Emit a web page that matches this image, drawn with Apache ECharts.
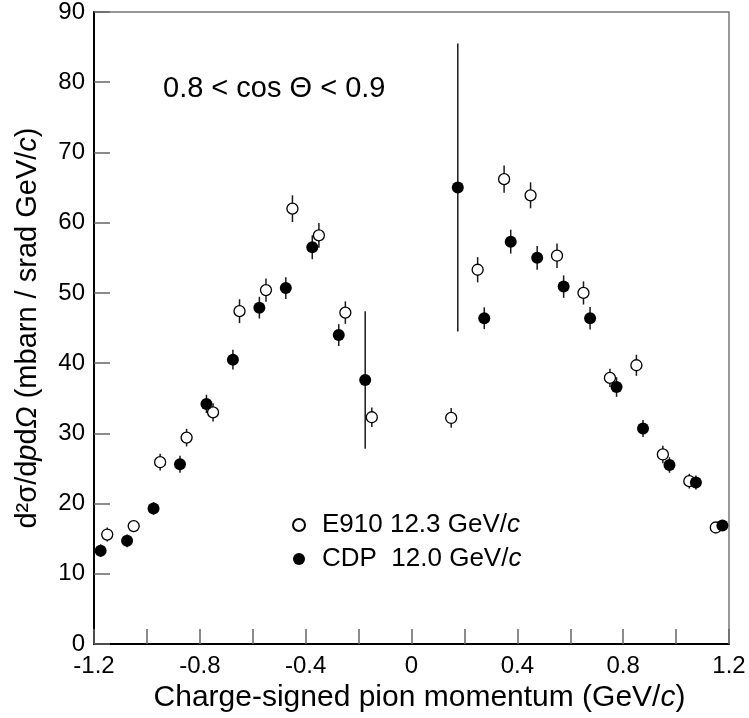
<!DOCTYPE html>
<html><head><meta charset="utf-8">
<script src="https://cdn.jsdelivr.net/npm/echarts@6/dist/echarts.min.js"></script>
<style>html,body{margin:0;padding:0;background:#fff}#c{width:749px;height:718px}</style>
</head><body><div id="c"></div>
<script>
// E910 12.3 GeV/c (open circles)
const e910X = [-1.15,-1.05,-0.95,-0.85,-0.75,-0.65,-0.55,-0.45,-0.35,-0.25,-0.15,0.15,0.25,0.35,0.45,0.55,0.65,0.75,0.85,0.95,1.05,1.15];
const e910Y = [15.6,16.8,25.9,29.4,33.0,47.4,50.4,62.0,58.2,47.2,32.3,32.2,53.3,66.2,63.9,55.3,50.0,37.9,39.7,27.0,23.2,16.6];
const e910Err = [1.0,0.85,1.2,1.25,1.3,1.7,1.65,1.9,1.75,1.6,1.4,1.4,1.8,1.95,1.85,1.75,1.65,1.3,1.5,1.25,1.05,0.6];
// CDP 12.0 GeV/c (filled circles)
const cdpX = [-1.175,-1.075,-0.975,-0.875,-0.775,-0.675,-0.575,-0.475,-0.375,-0.275,-0.175,0.175,0.275,0.375,0.475,0.575,0.675,0.775,0.875,0.975,1.075,1.175];
const cdpY = [13.3,14.7,19.3,25.6,34.2,40.5,47.9,50.7,56.5,44.0,37.6,65.0,46.4,57.3,55.0,50.9,46.4,36.6,30.7,25.5,23.0,16.9];
const cdpErr = [0.9,0.9,0.9,1.2,1.3,1.4,1.55,1.55,1.7,1.55,9.8,20.5,1.55,1.7,1.7,1.6,1.6,1.4,1.2,1.1,1.0,0.6];
// axes
const xMin = -1.2, xMax = 1.2, xStep = 0.2;
const yMin = 0, yMax = 90, yStep = 10;
const seriesNames = ['E910 12.3 GeV/c', 'CDP  12.0 GeV/c'];
const annotation = '0.8 < cos \u0398 < 0.9';
const xTitle = 'Charge-signed pion momentum (GeV/{i|c})';
const yTitle = 'd\u00B2\u03C3/d{i|p}d{i|\u03A9} (mbarn / srad GeV/{i|c})';

const FONT = '"Liberation Sans", Arial, Helvetica, sans-serif';
const zip = (xs, ys, es) => xs.map((x, i) => es ? [x, ys[i], es[i]] : [x, ys[i]]);

function errRender(params, api) {
  const x = api.value(0), y = api.value(1), e = api.value(2);
  const p1 = api.coord([x, y + e]), p2 = api.coord([x, y - e]);
  return {type: 'line', shape: {x1: p1[0], y1: p1[1], x2: p2[0], y2: p2[1]},
          style: {stroke: '#1a1a1a', lineWidth: 1.5}};
}

const chart = echarts.init(document.getElementById('c'), null, {renderer: 'canvas'});
chart.setOption({
  animation: false,
  backgroundColor: '#fff',
  textStyle: {fontFamily: FONT, color: '#000'},
  grid: {left: 94, right: 20, top: 12, bottom: 72, show: true, borderColor: '#777', borderWidth: 1.5, backgroundColor: 'transparent'},
  xAxis: {
    type: 'value', min: xMin, max: xMax, interval: xStep,
    axisLine: {onZero: false, lineStyle: {color: '#000', width: 2}},
    axisTick: {inside: true, length: 15, lineStyle: {color: '#666', width: 1.5}},
    splitLine: {show: false},
    axisLabel: {fontSize: 24, color: '#000', margin: 10, fontFamily: FONT,
      formatter: v => { const k = Math.round(v * 10); if (k % 4 !== 0) return ''; return k === 0 ? '0' : (k / 10).toString(); }},
    name: xTitle, nameLocation: 'middle', nameGap: 37,
    nameTextStyle: {fontSize: 30, color: '#000', fontFamily: FONT, padding: [0, 0, 0, 16],
      rich: {i: {fontSize: 30, fontStyle: 'italic', fontFamily: FONT, color: '#000'}}}
  },
  yAxis: {
    type: 'value', min: yMin, max: yMax, interval: yStep,
    axisLine: {show: true, onZero: false, lineStyle: {color: '#000', width: 2}},
    axisTick: {show: true, inside: true, length: 16, lineStyle: {color: '#666', width: 1.5}},
    splitLine: {show: false},
    axisLabel: {fontSize: 24, color: '#000', margin: 9, fontFamily: FONT},
    name: yTitle, nameLocation: 'middle', nameGap: 52,
    nameTextStyle: {fontSize: 29, color: '#000', fontFamily: FONT,
      rich: {i: {fontSize: 29, fontStyle: 'italic', fontFamily: FONT, color: '#000'}}}
  },
  legend: {
    data: seriesNames, orient: 'vertical', left: 287, top: 507,
    itemWidth: 12, itemHeight: 12, itemGap: 8, icon: 'circle',
    formatter: n => n.replace('/c', '/{i|c}'),
    textStyle: {fontSize: 26, color: '#000', fontFamily: FONT, padding: [0, 0, 0, 12],
      rich: {i: {fontSize: 26, fontStyle: 'italic', fontFamily: FONT, color: '#000'}}}
  },
  graphic: [{type: 'text', left: 163, top: 74, z: 10,
    style: {text: annotation, fontSize: 29, fontFamily: FONT, fill: '#000'}}],
  series: [
    {type: 'custom', name: 'err-e910', renderItem: errRender, data: zip(e910X, e910Y, e910Err), encode: {x: 0, y: 1}, z: 1, silent: true},
    {type: 'custom', name: 'err-cdp', renderItem: errRender, data: zip(cdpX, cdpY, cdpErr), encode: {x: 0, y: 1}, z: 1, silent: true},
    {type: 'scatter', name: seriesNames[0], data: zip(e910X, e910Y), symbol: 'circle', symbolSize: 11, z: 3,
      itemStyle: {color: '#fff', borderColor: '#000', borderWidth: 1.3, opacity: 1}},
    {type: 'scatter', name: seriesNames[1], data: zip(cdpX, cdpY), symbol: 'circle', symbolSize: 12, z: 4,
      itemStyle: {color: '#000', borderColor: '#000', borderWidth: 0, opacity: 1}}
  ]
});
</script></body></html>
